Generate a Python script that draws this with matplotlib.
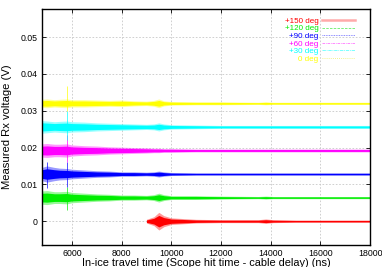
import numpy as np
import matplotlib.pyplot as plt
from matplotlib.lines import Line2D

# angles, colours and trace offsets (V)
labels = ['+150 deg', '+120 deg', '+90 deg', '+60 deg', '+30 deg', '0 deg']
colors = ['#ff0000', '#00ee00', '#0000ff', '#ff00ff', '#00ffff', '#ffff00']
offsets = [0.0, 0.0064, 0.0128, 0.0192, 0.0256, 0.032]

# envelope sample times (ns) and half-amplitudes (V)
t = [4800, 5000, 5300, 5500, 5800, 6000, 6500, 7000, 7500, 8000, 8500, 9000, 9300, 9500,
     9700, 10000, 11000, 12000, 13500, 13800, 14100, 15000, 16000, 18000]
env_yellow = [0.0011, 0.0012, 0.0010, 0.0011, 0.0012, 0.0010, 0.0010, 0.0009, 0.0008, 0.0009, 0.0007, 0.0006,
              0.0008, 0.0012, 0.0007, 0.0005, 0.0004, 0.0004, 0.0003, 0.0004, 0.0003, 0.0003, 0.0003, 0.0003]
env_cyan = [0.0017, 0.0016, 0.0014, 0.0015, 0.0016, 0.0014, 0.0013, 0.0011, 0.0010, 0.0009, 0.0008, 0.0007,
            0.0008, 0.0011, 0.0008, 0.0006, 0.0005, 0.0004, 0.0004, 0.0004, 0.0004, 0.0004, 0.0004, 0.0004]
env_magenta = [0.0018, 0.0019, 0.0017, 0.0017, 0.0018, 0.0015, 0.0013, 0.0012, 0.0010, 0.0009, 0.0008, 0.0007,
               0.0006, 0.0006, 0.0005, 0.0005, 0.0004, 0.0004, 0.0004, 0.0004, 0.0004, 0.0004, 0.0004, 0.0004]
env_blue = [0.0018, 0.0022, 0.0018, 0.0016, 0.0015, 0.0013, 0.0011, 0.0009, 0.0008, 0.0006, 0.0006, 0.0005,
            0.0006, 0.0008, 0.0006, 0.0004, 0.0003, 0.0003, 0.0003, 0.0003, 0.0003, 0.0003, 0.0003, 0.0003]
env_green = [0.0018, 0.0019, 0.0016, 0.0016, 0.0017, 0.0014, 0.0012, 0.0010, 0.0009, 0.0007, 0.0007, 0.0006,
             0.0008, 0.0012, 0.0008, 0.0005, 0.0005, 0.0004, 0.0003, 0.0004, 0.0003, 0.0003, 0.0003, 0.0003]
env_red = [np.nan] * 11 + [0.0005, 0.0012, 0.0024,
                           0.0015, 0.0009, 0.0005, 0.0004, 0.0004, 0.0006, 0.0004, 0.0003, 0.0003, 0.0003]
envs = [env_red, env_green, env_blue, env_magenta, env_cyan, env_yellow]

# single spikes: time, low, high (V)
spike_t = [5810, 5810, 5810, 5810, 5810, 4990]
spike_lo = [0.0030, 0.0092, 0.0160, 0.0220, 0.0300, 0.0090]
spike_hi = [0.0092, 0.0160, 0.0235, 0.0300, 0.0367, 0.0160]
spike_c = ['#00ee00', '#0000ff', '#ff00ff', '#00ffff', '#ffff00', '#0000ff']

# legend sample colours (pale, as drawn in the key)
key_c = ['#ffaaaa', '#66ee66', '#6666ff', '#ff77ff', '#66ffff', '#eeee66']
key_ls = ['-', (0, (3, 1.5)), (0, (1, 1)), (0, (3, 1, 1, 1)), (0, (4, 1, 1, 1)), (0, (1, 1.5))]

plt.rcParams['font.family'] = ['Liberation Sans', 'DejaVu Sans']
fig = plt.figure(figsize=(3.82, 2.67), dpi=100)
ax = fig.add_axes([0.110, 0.082, 0.859, 0.884])

tt = np.array(t, dtype=float)
for env, base, c in zip(envs, offsets, colors):
    e = np.array(env)
    ax.fill_between(tt, base - e, base + e, color=c, alpha=0.4, lw=0)
    ax.fill_between(tt, base - 0.65 * e, base + 0.65 * e, color=c, lw=0)
ax.vlines(spike_t, spike_lo, spike_hi, colors=spike_c, lw=0.6, alpha=0.8)

ax.set_xlim(4800, 18000)
ax.set_ylim(-0.0065, 0.0576)
ax.set_xticks([6000, 8000, 10000, 12000, 14000, 16000, 18000])
ax.set_yticks([0, 0.01, 0.02, 0.03, 0.04, 0.05])
ax.set_yticklabels(['0', '0.01', '0.02', '0.03', '0.04', '0.05'])
ax.tick_params(direction='in', top=True, right=True, labelsize=6.3, length=3, width=0.6, pad=3)
ax.grid(True, color='#c8c8c8', ls=(0, (2, 2)), lw=0.6)
ax.set_axisbelow(True)
for s in ax.spines.values():
    s.set_linewidth(1.0)

ax.set_xlabel('In-ice travel time (Scope hit time - cable delay) (ns)', fontsize=7.9, labelpad=0)
ax.set_ylabel('Measured Rx voltage (V)', fontsize=8.1, labelpad=6)

handles = [Line2D([], [], color=key_c[0], lw=1.8)]
handles += [Line2D([], [], color=c, lw=0.6, ls=ls) for c, ls in zip(key_c[1:], key_ls[1:])]
ax.legend(handles, labels, loc='upper right', frameon=False, fontsize=5.8,
          markerfirst=False, labelcolor=colors, handlelength=4.0, handletextpad=0.5,
          labelspacing=0.0, borderaxespad=0.3, bbox_to_anchor=(0.97, 0.99))

fig.savefig('out.png', dpi=100)
